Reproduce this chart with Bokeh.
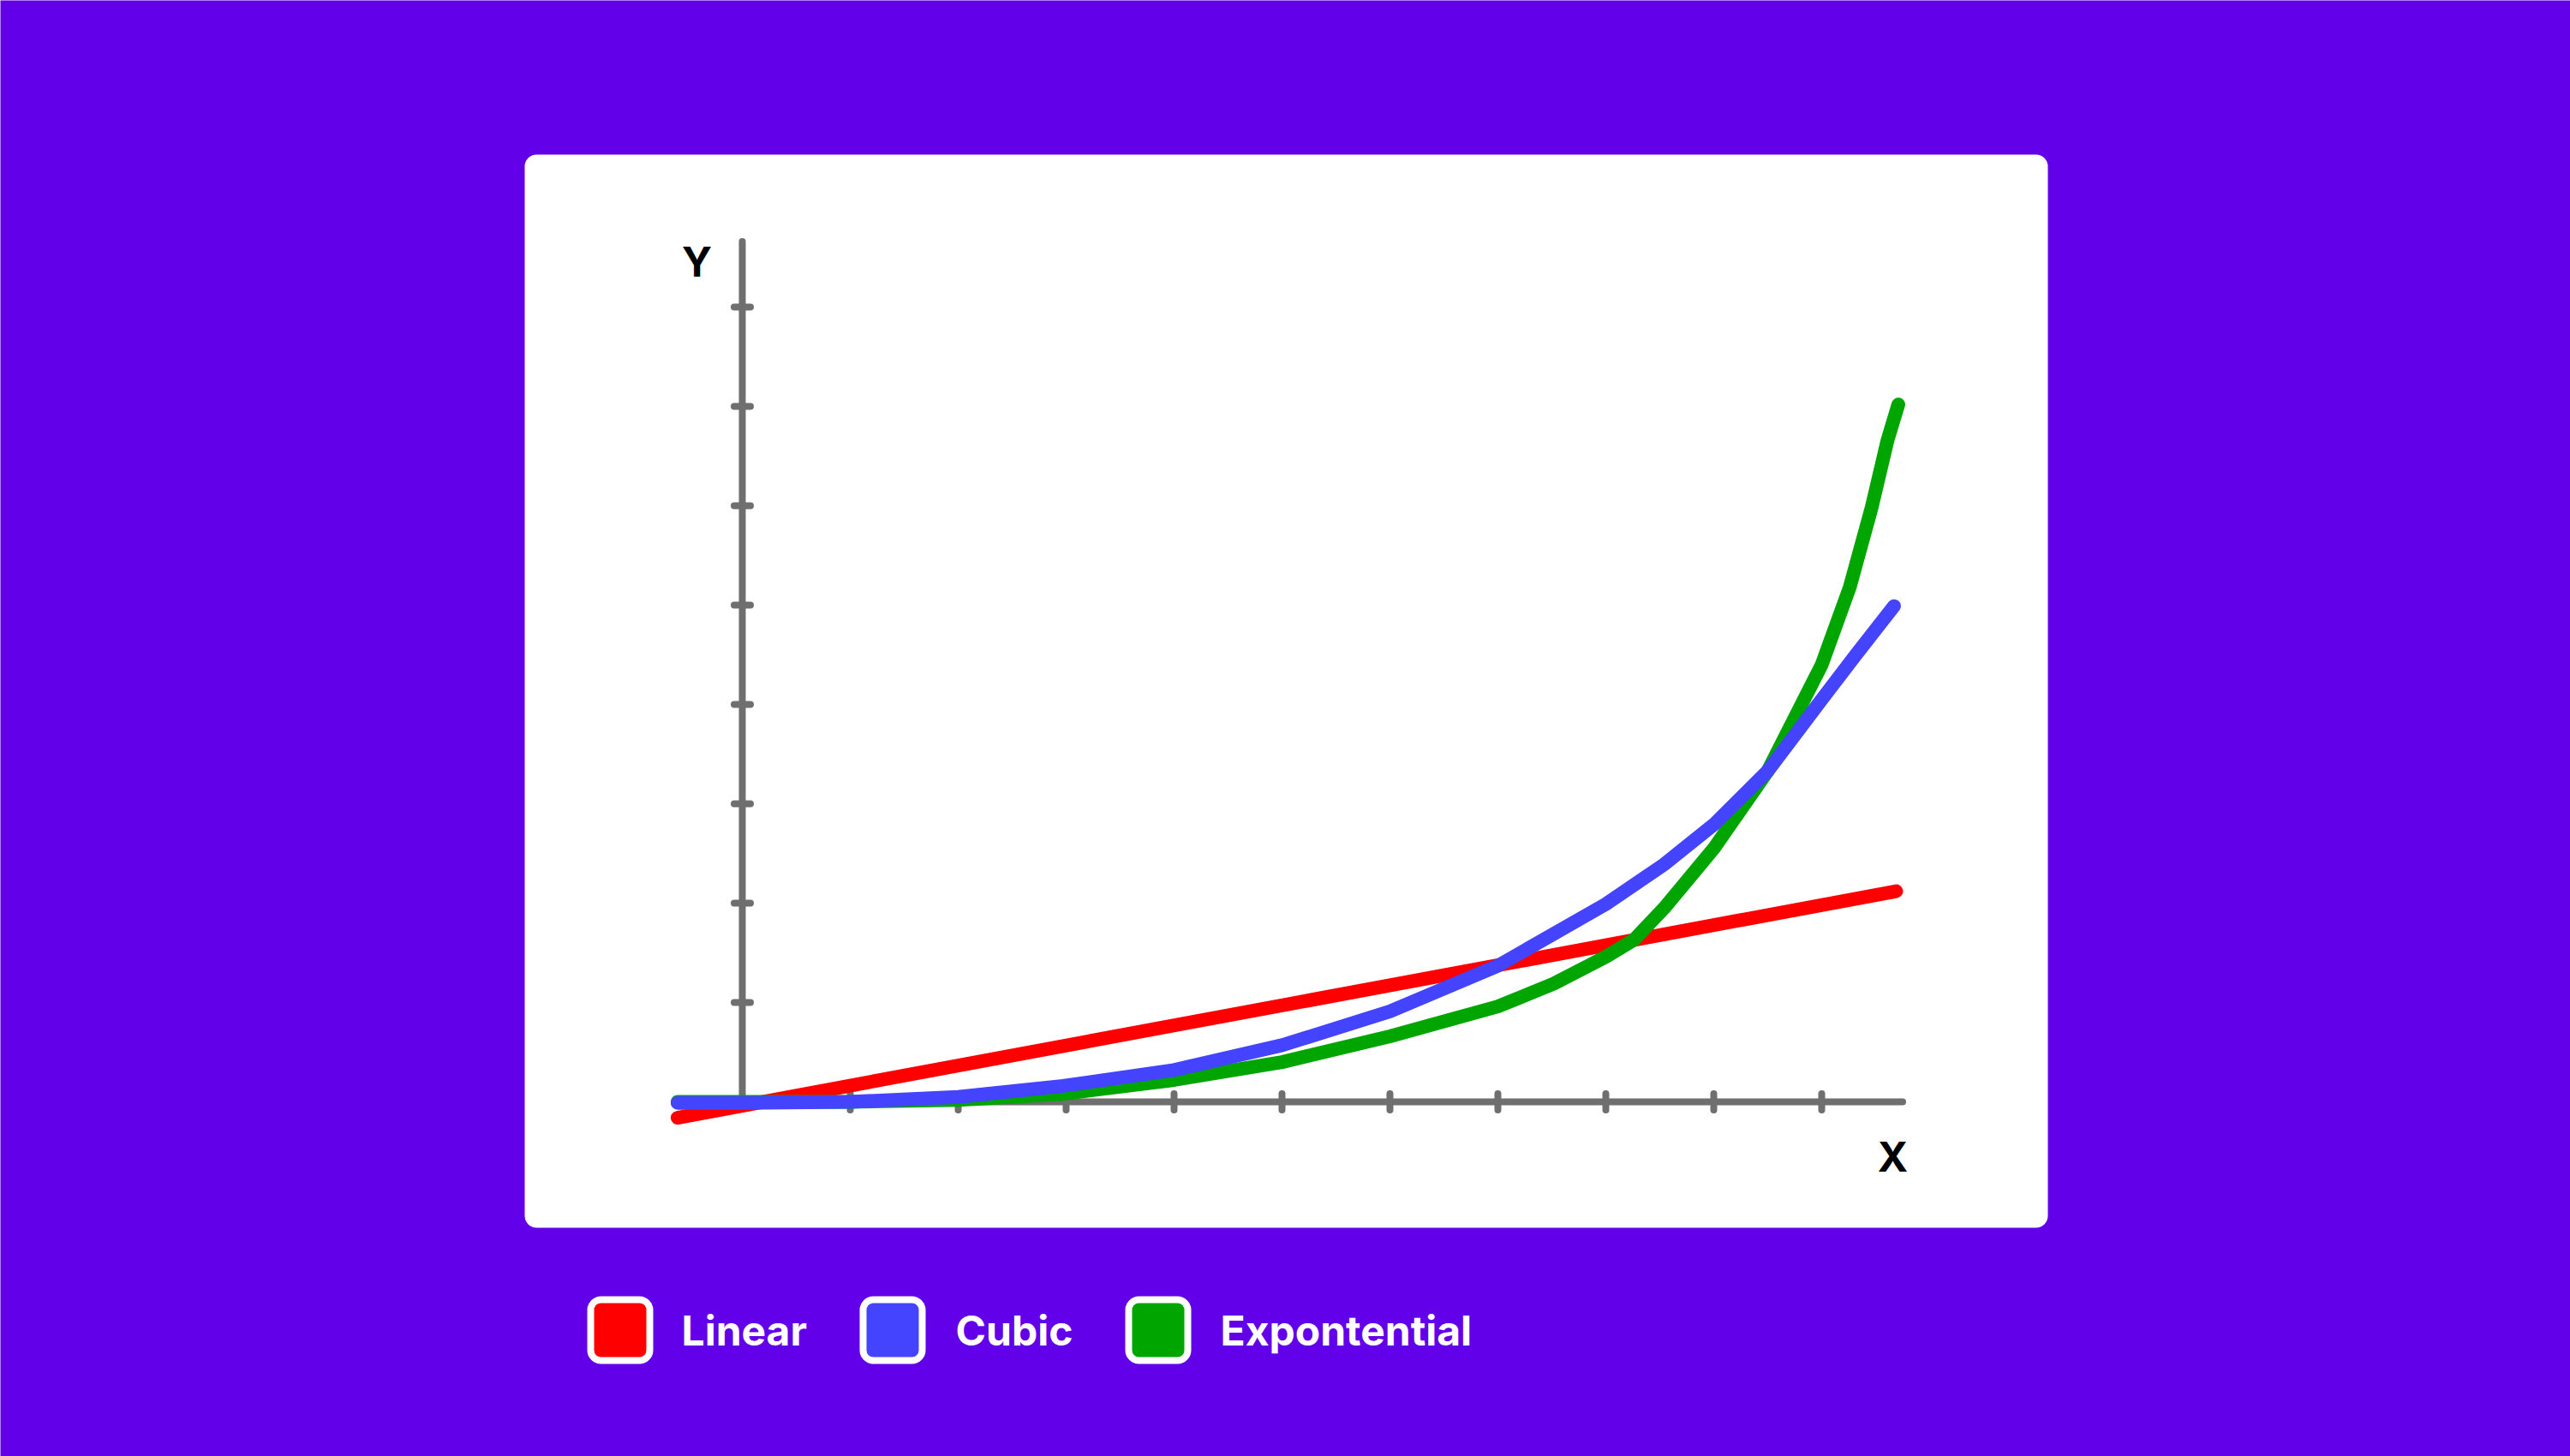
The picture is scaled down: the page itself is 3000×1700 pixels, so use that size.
from bokeh.plotting import figure
from bokeh.models import BoxAnnotation, Range1d
from bokeh.embed import file_html
from bokeh.resources import INLINE
from bokeh.core.properties import value

# ---------------- data ----------------
x_ticks = [1, 2, 3, 4, 5, 6, 7, 8, 9, 10]
y_ticks = [1, 2, 3, 4, 5, 6, 7, 8]
x_axis_end = 10.75
y_axis_end = 8.66

linear_x = [-0.6, 10.69]
linear_y = [-0.16, 2.12]

cubic_x = [-0.6, 0, 1, 2, 2.97, 4, 5, 6, 7, 8, 8.54, 9, 9.5, 10, 10.31, 10.67]
cubic_y = [-0.01, -0.01, 0.0, 0.05, 0.16, 0.32, 0.57, 0.91, 1.37, 1.99, 2.39, 2.79, 3.33, 4.05, 4.49, 4.99]

expo_x = [-0.6, 0, 1, 2, 2.97, 4, 5, 6, 7, 7.52, 8, 8.26, 8.54, 9, 9.5, 10, 10.26, 10.46, 10.61, 10.71]
expo_y = [0.0, 0.0, 0.0, 0.02, 0.08, 0.22, 0.40, 0.66, 0.96, 1.19, 1.46, 1.63, 1.95, 2.55, 3.33, 4.40, 5.18, 5.97, 6.66, 7.02]

series_names = ["Linear", "Cubic", "Expontential"]
series_colors = ["#FF0000", "#4444FF", "#00A500"]
axis_labels = ["X", "Y"]

# ---------------- layout constants (pixels) ----------------
W, H = 3000, 1700
X0_PX, PX_PER_X = 866, 126
Y0_PX, PX_PER_Y = 1286, 116
BG = "#6200EA"
AXIS_COLOR = "#6F6F6F"
CURVE_W = 16


def px2x(px):
    return (px - X0_PX) / PX_PER_X


def py2y(py):
    return (Y0_PX - py) / PX_PER_Y


p = figure(width=W, height=H, output_backend="svg", toolbar_location=None,
           x_range=Range1d(px2x(0), px2x(W)), y_range=Range1d(py2y(H), py2y(0)),
           x_axis_type=None, y_axis_type=None, min_border=0, title=None)
p.grid.visible = False
p.outline_line_color = None
p.background_fill_color = BG
p.border_fill_color = BG

# white card
p.add_layout(BoxAnnotation(left=px2x(612), right=px2x(2390), top=py2y(180), bottom=py2y(1433),
                           fill_color="white", fill_alpha=1.0, line_alpha=0,
                           border_radius=14, level="underlay"))

# axes
p.line([0, x_axis_end], [0, 0], line_color=AXIS_COLOR, line_width=8, line_cap="round")
p.line([0, 0], [0, y_axis_end], line_color=AXIS_COLOR, line_width=8, line_cap="round")
tdx = 9.5 / PX_PER_X
tdy = 9.5 / PX_PER_Y
p.segment(x0=x_ticks, y0=[-tdy] * len(x_ticks), x1=x_ticks, y1=[tdy] * len(x_ticks),
          line_color=AXIS_COLOR, line_width=8, line_cap="round")
p.segment(x0=[-tdx] * len(y_ticks), y0=y_ticks, x1=[tdx] * len(y_ticks), y1=y_ticks,
          line_color=AXIS_COLOR, line_width=8, line_cap="round")

# axis labels
p.text(x=[px2x(2209), px2x(813)], y=[py2y(1350), py2y(305)], text=axis_labels,
       text_align="center", text_baseline="middle", text_color="#000000",
       text_font=value("Inter"), text_font_size="48px", text_font_style="bold")

# series (drawn red, green, blue so blue is on top)
for xs, ys, c in [(linear_x, linear_y, series_colors[0]),
                  (expo_x, expo_y, series_colors[2]),
                  (cubic_x, cubic_y, series_colors[1])]:
    p.line(xs, ys, line_color=c, line_width=CURVE_W, line_cap="round", line_join="round")

# legend
box_left_px = [685, 1003, 1313]
text_left_px = [795, 1115, 1424]
LEG_TOP, LEG_BOT = 1513, 1592
for name, c, bl, tl in zip(series_names, series_colors, box_left_px, text_left_px):
    p.add_layout(BoxAnnotation(left=px2x(bl + 4), right=px2x(bl + 73),
                               top=py2y(LEG_TOP + 4), bottom=py2y(LEG_BOT - 4),
                               fill_color=c, fill_alpha=1.0, line_color="white",
                               line_alpha=1.0, line_width=8, border_radius=12,
                               level="overlay"))
p.text(x=[px2x(t) for t in text_left_px], y=[py2y(1553)] * 3, text=series_names,
       text_align="left", text_baseline="middle", text_color="white",
       text_font=value("Inter"), text_font_size="48px", text_font_style="bold")

open("out.html", "w").write(file_html(p, INLINE))
